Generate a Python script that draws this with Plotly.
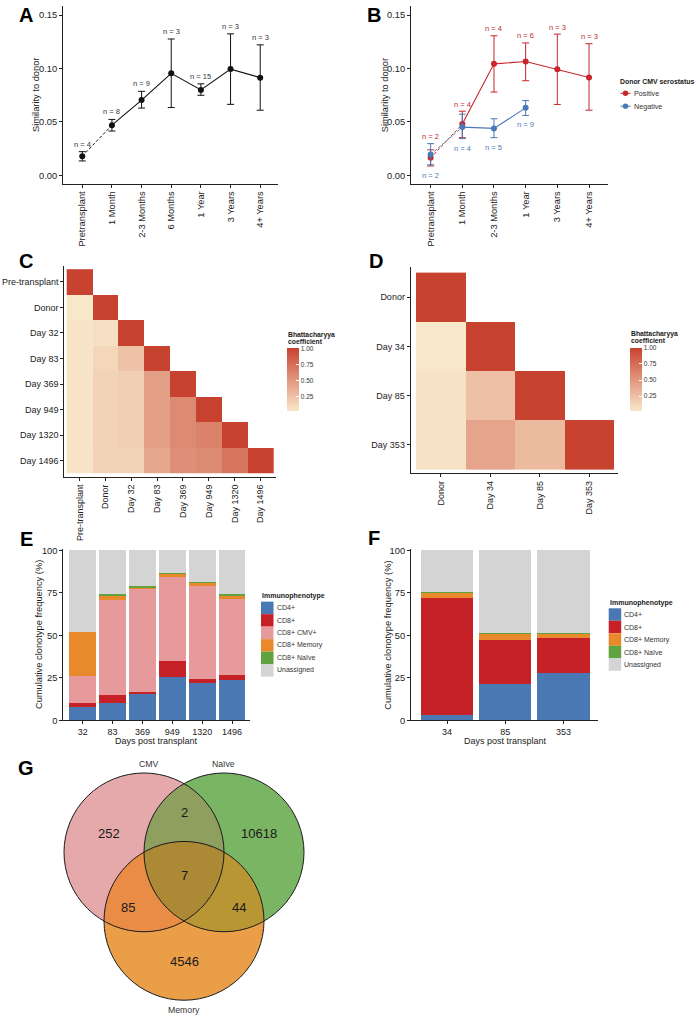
import math
import plotly.graph_objects as go

W, H = 700, 1034
FONT = "Liberation Sans, Arial, Helvetica, sans-serif"
INK = "#1a1a1a"


def px(x):
    return x / W


def py(y):
    return 1 - y / H


# ---------------- Panel A data ----------------
a_times = ["Pretransplant", "1 Month", "2-3 Months", "6 Months", "1 Year", "3 Years", "4+ Years"]
a_mean = [0.018, 0.047, 0.0705, 0.0955, 0.080, 0.0995, 0.0915]
a_low = [0.0135, 0.0415, 0.063, 0.0635, 0.075, 0.0665, 0.061]
a_high = [0.0222, 0.0524, 0.0787, 0.1277, 0.0857, 0.1325, 0.1222]
a_n = [4, 8, 9, 3, 15, 3, 3]

# ---------------- Panel B data ----------------
b_times = ["Pretransplant", "1 Month", "2-3 Months", "1 Year", "3 Years", "4+ Years"]
b_pos_mean = [0.0164, 0.048, 0.1044, 0.1066, 0.0994, 0.0917]
b_pos_low = [0.0088, 0.0353, 0.078, 0.0886, 0.0664, 0.061]
b_pos_high = [0.0239, 0.0601, 0.1307, 0.124, 0.1323, 0.1233]
b_pos_n = [2, 4, 4, 6, 3, 3]
b_neg_times = ["Pretransplant", "1 Month", "2-3 Months", "1 Year"]
b_neg_mean = [0.0195, 0.0452, 0.044, 0.0632]
b_neg_low = [0.0099, 0.0344, 0.0353, 0.0561]
b_neg_high = [0.0297, 0.0573, 0.053, 0.0700]
b_neg_n = [2, 4, 5, 9]

# ---------------- Panel C data ----------------
c_labels = ["Pre-transplant", "Donor", "Day 32", "Day 83", "Day 369", "Day 949", "Day 1320", "Day 1496"]
c_matrix = [
    [1.00, None, None, None, None, None, None, None],
    [0.03, 1.00, None, None, None, None, None, None],
    [0.04, 0.08, 1.00, None, None, None, None, None],
    [0.04, 0.13, 0.25, 1.00, None, None, None, None],
    [0.04, 0.15, 0.17, 0.45, 1.00, None, None, None],
    [0.04, 0.15, 0.17, 0.45, 0.58, 1.00, None, None],
    [0.04, 0.15, 0.17, 0.45, 0.58, 0.63, 1.00, None],
    [0.04, 0.14, 0.15, 0.40, 0.55, 0.58, 0.70, 1.00],
]

# ---------------- Panel D data ----------------
d_labels = ["Donor", "Day 34", "Day 85", "Day 353"]
d_matrix = [
    [1.00, None, None, None],
    [0.02, 1.00, None, None],
    [0.05, 0.25, 1.00, None],
    [0.05, 0.42, 0.29, 1.00],
]

# ---------------- Panel E data ----------------
e_days = ["32", "83", "369", "949", "1320", "1496"]
e_cd4 = [8.1, 10.5, 15.9, 25.8, 22.1, 24.0]
e_cd8 = [2.0, 4.2, 1.0, 9.1, 2.5, 2.6]
e_cmv = [16.1, 56.3, 60.7, 49.2, 54.4, 44.6]
e_memory = [25.6, 2.8, 1.0, 2.2, 2.5, 2.6]
e_naive = [0.0, 0.3, 0.2, 0.3, 0.2, 0.3]
e_unassigned = [48.2, 25.9, 21.2, 13.4, 18.3, 25.9]

# ---------------- Panel F data ----------------
f_days = ["34", "85", "353"]
f_cd4 = [2.9, 21.7, 27.7]
f_cd8 = [69.3, 25.4, 20.6]
f_memory = [3.1, 3.9, 3.1]
f_naive = [0.1, 0.3, 0.3]
f_unassigned = [24.6, 48.7, 48.3]

# ---------------- Panel G data ----------------
venn_sets = ["CMV", "Naïve", "Memory"]
venn_regions = ["CMV", "CMV∩Naïve", "Naïve", "all", "CMV∩Memory", "Naïve∩Memory", "Memory"]
venn_counts = [252, 2, 10618, 7, 85, 44, 4546]

# ---------------- styles ----------------
RED = "#C8262C"
BLUE = "#4A7AB5"
PHENO_COLORS = {
    "CD4+": "#4A78B2",
    "CD8+": "#C62127",
    "CD8+ CMV+": "#E69A9C",
    "CD8+ Memory": "#E8892C",
    "CD8+ Naïve": "#5FA23F",
    "Unassigned": "#D4D4D4",
}
HEAT_SCALE = [[0, "#F9E7CA"], [1, "#C8432F"]]

fig = go.Figure()
shapes = []
annotations = []


def ann(x, y, text, size=9.0, color=INK, xanchor="center", yanchor="middle",
        angle=0, bold=False, xref="paper", yref="paper", **kw):
    if xref == "paper":
        x = px(x)
    if yref == "paper":
        y = py(y)
    annotations.append(dict(
        x=x, y=y, xref=xref, yref=yref,
        text=f"<b>{text}</b>" if bold else text,
        showarrow=False, font=dict(size=size, color=color, family=FONT),
        xanchor=xanchor, yanchor=yanchor, textangle=angle, borderpad=0, **kw))


def add_series(times, mean, low, high, color, xa, ya):
    fig.add_trace(go.Scatter(x=times[:2], y=mean[:2], mode="lines",
                             line=dict(color=color, width=1, dash="3px,2px"),
                             xaxis=xa, yaxis=ya, showlegend=False, hoverinfo="skip"))
    fig.add_trace(go.Scatter(x=times[1:], y=mean[1:], mode="lines",
                             line=dict(color=color, width=1.1),
                             xaxis=xa, yaxis=ya, showlegend=False, hoverinfo="skip"))
    fig.add_trace(go.Scatter(
        x=times, y=mean, mode="markers",
        marker=dict(color=color, size=6),
        error_y=dict(type="data", symmetric=False,
                     array=[h - m for h, m in zip(high, mean)],
                     arrayminus=[m - l for m, l in zip(mean, low)],
                     color=color, thickness=1, width=3.5),
        xaxis=xa, yaxis=ya, showlegend=False))


# ---- Panel A
add_series(a_times, a_mean, a_low, a_high, "#111111", "x", "y")
for t, h, n in zip(a_times, a_high, a_n):
    ann(t, h, f"n = {n}", size=7.5, color="#333333", xref="x", yref="y", yshift=7.5)

# ---- Panel B
add_series(b_times, b_pos_mean, b_pos_low, b_pos_high, RED, "x2", "y2")
add_series(b_neg_times, b_neg_mean, b_neg_low, b_neg_high, BLUE, "x2", "y2")
neg_high = dict(zip(b_neg_times, b_neg_high))
pos_low = dict(zip(b_times, b_pos_low))
for t, h, n in zip(b_times, b_pos_high, b_pos_n):
    anchor = max(h, neg_high.get(t, h))
    ann(t, anchor, f"n = {n}", size=7.5, color=RED, xref="x2", yref="y2", yshift=7)
for t, l, n in zip(b_neg_times, b_neg_low, b_neg_n):
    anchor = min(l, pos_low.get(t, l))
    ann(t, anchor, f"n = {n}", size=7.5, color=BLUE, xref="x2", yref="y2", yshift=-9.5)

# legend B (drawn)
ann(619, 79, "Donor CMV serostatus", size=6.9, bold=True, xanchor="left")
for i, (lab, col) in enumerate([("Positive", RED), ("Negative", BLUE)]):
    yc = 91 + i * 13
    shapes.append(dict(type="line", xref="paper", yref="paper", x0=px(620.5), x1=px(630.5),
                       y0=py(yc), y1=py(yc), line=dict(color=col, width=1)))
    shapes.append(dict(type="circle", xref="paper", yref="paper", x0=px(622.8), x1=px(628.2),
                       y0=py(yc + 2.7), y1=py(yc - 2.7), fillcolor=col, line=dict(width=0)))
    ann(633.3, yc, lab, size=7.2, color="#333333", xanchor="left")

# ---- Panel C heatmap
fig.add_trace(go.Heatmap(
    x=c_labels, y=c_labels, z=c_matrix, colorscale=HEAT_SCALE, zmax=1,
    xaxis="x3", yaxis="y3", hoverongaps=False,
    colorbar=dict(x=px(287), xanchor="left", y=py(379.7), yanchor="middle",
                  len=63, lenmode="pixels", thickness=12, thicknessmode="pixels",
                  outlinewidth=0, xpad=0, ypad=0, ticks="inside", tickcolor="white",
                  ticklen=3, tickvals=[0.25, 0.5, 0.75, 1.0],
                  ticktext=["0.25", "0.50", "0.75", "1.00"],
                  tickfont=dict(size=6.5, color="#333333", family=FONT),
                  title=dict(text=""))))
ann(287, 335, "Bhattacharyya", size=6.8, bold=True, xanchor="left")
ann(287, 341.5, "coefficient", size=6.8, bold=True, xanchor="left")

# ---- Panel D heatmap
fig.add_trace(go.Heatmap(
    x=d_labels, y=d_labels, z=d_matrix, colorscale=HEAT_SCALE, zmax=1,
    xaxis="x4", yaxis="y4", hoverongaps=False,
    colorbar=dict(x=px(630), xanchor="left", y=py(379.3), yanchor="middle",
                  len=63, lenmode="pixels", thickness=12, thicknessmode="pixels",
                  outlinewidth=0, xpad=0, ypad=0, ticks="inside", tickcolor="white",
                  ticklen=3, tickvals=[0.25, 0.5, 0.75, 1.0],
                  ticktext=["0.25", "0.50", "0.75", "1.00"],
                  tickfont=dict(size=6.5, color="#333333", family=FONT),
                  title=dict(text=""))))
ann(630, 333.5, "Bhattacharyya", size=6.8, bold=True, xanchor="left")
ann(630, 340, "coefficient", size=6.8, bold=True, xanchor="left")

# ---- Panel E bars
e_series = [("CD4+", e_cd4), ("CD8+", e_cd8), ("CD8+ CMV+", e_cmv),
            ("CD8+ Memory", e_memory), ("CD8+ Naïve", e_naive), ("Unassigned", e_unassigned)]
for name, vals in e_series:
    fig.add_trace(go.Bar(x=e_days, y=vals, name=name, width=0.89,
                         marker=dict(color=PHENO_COLORS[name], line=dict(width=0)),
                         xaxis="x5", yaxis="y5", showlegend=False))

# ---- Panel F bars
f_series = [("CD4+", f_cd4), ("CD8+", f_cd8), ("CD8+ Memory", f_memory),
            ("CD8+ Naïve", f_naive), ("Unassigned", f_unassigned)]
for name, vals in f_series:
    fig.add_trace(go.Bar(x=f_days, y=vals, name=name, width=0.9,
                         marker=dict(color=PHENO_COLORS[name], line=dict(width=0)),
                         xaxis="x6", yaxis="y6", showlegend=False))


def pheno_legend(x_left, title_y, key_top, names):
    ann(x_left, title_y, "Immunophenotype", size=7, bold=True, xanchor="left")
    for i, name in enumerate(names):
        top = key_top + i * 12.6
        shapes.append(dict(type="rect", xref="paper", yref="paper",
                           x0=px(x_left), x1=px(x_left + 12.5),
                           y0=py(top + 12.6), y1=py(top),
                           fillcolor=PHENO_COLORS[name], line=dict(width=0)))
        ann(x_left + 14.5, top + 6.3, name, size=7, color="#333333", xanchor="left")


pheno_legend(261, 597.7, 603.3, [n for n, _ in e_series])
pheno_legend(608.7, 604.3, 610, [n for n, _ in f_series])

# ---- Panel G venn (geometry in pixel units on a hidden 1:1 axis)
venn_geom = [(144, 856, 80), (224, 856, 80), (184, 925, 80)]
region_colors = {
    (0,): "#E6A9AB", (1,): "#7AB563", (2,): "#EB9E48",
    (0, 1): "#8E9F60", (0, 2): "#E88C46", (1, 2): "#B89633", (0, 1, 2): "#AC8935",
}


def boundary(cx, cy, r, n=1440):
    return [(cx + r * math.cos(2 * math.pi * k / n), cy + r * math.sin(2 * math.pi * k / n))
            for k in range(n)]


def inside(p, c):
    return (p[0] - c[0]) ** 2 + (p[1] - c[1]) ** 2 <= c[2] ** 2 * 1.0001


def intersection_polygon(idx):
    circles = [venn_geom[i] for i in idx]
    pts = []
    for c in circles:
        for p in boundary(*c):
            if all(inside(p, o) for o in circles if o is not c):
                pts.append(p)
    mx = sum(p[0] for p in pts) / len(pts)
    my = sum(p[1] for p in pts) / len(pts)
    pts.sort(key=lambda p: math.atan2(p[1] - my, p[0] - mx))
    pts.append(pts[0])
    return pts


for idx in [(0,), (1,), (2,), (0, 1), (0, 2), (1, 2), (0, 1, 2)]:
    poly = intersection_polygon(idx)
    fig.add_trace(go.Scatter(x=[p[0] for p in poly], y=[p[1] for p in poly],
                             mode="lines", fill="toself", fillcolor=region_colors[idx],
                             line=dict(width=0, color=region_colors[idx]),
                             xaxis="x7", yaxis="y7", showlegend=False, hoverinfo="skip"))
for cx, cy, r in venn_geom:
    shapes.append(dict(type="circle", xref="x7", yref="y7", x0=cx - r, x1=cx + r,
                       y0=cy - r, y1=cy + r, line=dict(color="#1a1a1a", width=1),
                       layer="above"))
venn_text_pos = [(109, 836.7), (184, 816), (259, 836.7), (184, 879.3),
                 (128.3, 911.7), (239, 911.7), (184, 966)]
for (tx, ty), cnt in zip(venn_text_pos, venn_counts):
    ann(tx, ty, str(cnt), size=13, color="#1a1a1a")
venn_label_pos = [(149, 767.3), (223.3, 767.3), (184, 1015)]
for (tx, ty), lab in zip(venn_label_pos, venn_sets):
    ann(tx, ty, lab, size=8.7, color="#333333")

# ---- axis titles
ann(36.7, 93, "Similarity to donor", size=9.3, angle=-90)
ann(385, 93, "Similarity to donor", size=9.3, angle=-90)
ann(39, 637, "Cumulative clonotype frequency (%)", size=9.3, angle=-90)
ann(387.7, 637, "Cumulative clonotype frequency (%)", size=9.3, angle=-90)
ann(156.7, 743.5, "Days post transplant", size=9)
ann(505.7, 743.5, "Days post transplant", size=9)

# ---- panel letters
for letter, (lx, ly) in zip("ABCDEFG", [(26, 12), (374, 12), (26, 260), (376, 260),
                                         (26, 540), (374, 539), (26, 771)]):
    ann(lx, ly, letter, size=20, bold=True, color="#000000")

common = dict(showline=True, linecolor="#222222", linewidth=1, ticks="outside",
              ticklen=3, tickcolor="#222222", tickwidth=1, showgrid=False,
              zeroline=False, tickfont=dict(size=9.3, color="#222222", family=FONT),
              fixedrange=True)


def cat_axis(dom, anchor, cats, rng, angle=0, size=9.3):
    d = dict(common)
    d.update(domain=dom, anchor=anchor, type="category", categoryorder="array",
             categoryarray=cats, range=rng, tickangle=angle,
             tickfont=dict(size=size, color="#222222", family=FONT))
    return d


def num_axis(dom, anchor, rng, tickvals, ticktext):
    d = dict(common)
    d.update(domain=dom, anchor=anchor, range=rng, tickvals=tickvals, ticktext=ticktext)
    return d


sim_ticks = [0, 0.05, 0.10, 0.15]
sim_text = ["0.00", "0.05", "0.10", "0.15"]
pct_ticks = [0, 25, 50, 75, 100]
pct_text = ["0", "25", "50", "75", "100"]

fig.update_layout(
    width=W, height=H, margin=dict(l=0, r=0, t=0, b=0), autosize=False,
    paper_bgcolor="white", plot_bgcolor="white", barmode="stack",
    showlegend=False, font=dict(family=FONT, color=INK),
    xaxis=cat_axis([px(63), px(278)], "y", a_times, [-0.65, 6.6], -90),
    yaxis=num_axis([py(182), py(3)], "x", [-0.0077, 0.1586], sim_ticks, sim_text),
    xaxis2=cat_axis([px(411), px(608)], "y2", b_times, [-0.62, 5.6], -90),
    yaxis2=num_axis([py(182), py(3)], "x2", [-0.0077, 0.1586], sim_ticks, sim_text),
    xaxis3=cat_axis([px(64.3), px(276)], "y3", c_labels, [-0.593, 7.6], -90, 9),
    yaxis3=cat_axis([py(477.7), py(265)], "x3", c_labels, [7.644, -0.628], 0, 9),
    xaxis4=cat_axis([px(410.7), px(618.3)], "y4", d_labels, [-0.607, 3.58], -90, 9),
    yaxis4=cat_axis([py(474), py(266)], "x4", d_labels, [3.58, -0.615], 0, 9),
    xaxis5=cat_axis([px(63.3), px(250)], "y5", e_days, [-0.65, 5.6], 0, 9),
    yaxis5=num_axis([py(723), py(550)], "x5", [0, 101], pct_ticks, pct_text),
    xaxis6=cat_axis([px(411), px(598.3)], "y6", f_days, [-0.62, 2.6], 0, 9),
    yaxis6=num_axis([py(723), py(550)], "x6", [0, 101], pct_ticks, pct_text),
    xaxis7=dict(domain=[0, 0.5], range=[0, 350], visible=False, anchor="y7", fixedrange=True),
    yaxis7=dict(domain=[0, py(750)], range=[1034, 750], visible=False, anchor="x7", fixedrange=True),
    shapes=shapes, annotations=annotations,
)

fig.write_html("out.html")
